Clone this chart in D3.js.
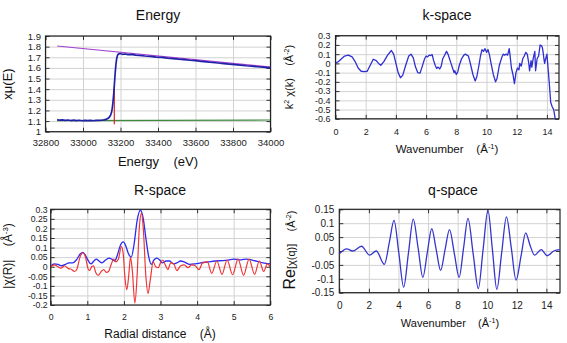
<!DOCTYPE html>
<html>
<head>
<meta charset="utf-8">
<script src="https://cdn.jsdelivr.net/npm/d3@7"></script>
<style>
body { margin: 0; background: #fff; }
text { font-family: "Liberation Sans", Arial, sans-serif; white-space: pre; }
</style>
</head>
<body>
<div class="chart"></div>
<script>
// ---- Energy (raw absorption) ----
const energyE = [32862, 32875, 32890, 32905, 32920, 32935, 32950, 32965, 32980, 32995, 33010, 33025, 33040, 33055, 33070, 33085, 33100, 33112, 33122, 33132, 33140, 33147, 33152, 33156, 33160, 33164, 33168, 33172, 33176, 33180, 33184, 33190, 33198, 33210, 33225, 33240, 33260, 33280, 33300, 33330, 33360, 33390, 33420, 33450, 33480, 33510, 33540, 33570, 33600, 33630, 33660, 33690, 33720, 33750, 33780, 33810, 33840, 33870, 33900, 33930, 33960, 33985, 34000];
const energyMu = [1.113, 1.108, 1.111, 1.106, 1.110, 1.105, 1.109, 1.104, 1.108, 1.103, 1.107, 1.104, 1.106, 1.103, 1.106, 1.107, 1.108, 1.111, 1.116, 1.124, 1.136, 1.155, 1.18, 1.22, 1.28, 1.36, 1.46, 1.56, 1.64, 1.69, 1.718, 1.732, 1.735, 1.728, 1.731, 1.725, 1.727, 1.72, 1.718, 1.712, 1.708, 1.702, 1.699, 1.692, 1.688, 1.682, 1.678, 1.672, 1.668, 1.662, 1.657, 1.651, 1.646, 1.641, 1.636, 1.63, 1.626, 1.62, 1.616, 1.611, 1.607, 1.603, 1.604];
const preEdgeE = [32862, 34000];
const preEdgeMu = [1.105, 1.11];
const postEdgeE = [32862, 34000];
const postEdgeMu = [1.806, 1.608];
const e0E = [33167, 33167];
const e0Mu = [1.07, 1.42];

// ---- k-space ----
const kK = [0, 0.2, 0.4, 0.6, 0.85, 1.1, 1.3, 1.5, 1.7, 1.9, 2.1, 2.3, 2.5, 2.7, 2.85, 3.0, 3.2, 3.45, 3.7, 3.85, 4.0, 4.15, 4.3, 4.45, 4.65, 4.85, 5.0, 5.15, 5.3, 5.45, 5.6, 5.75, 5.9, 6.0, 6.1, 6.2, 6.3, 6.4, 6.5, 6.6, 6.7, 6.8, 6.9, 7.0, 7.1, 7.2, 7.35, 7.45, 7.55, 7.65, 7.75, 7.85, 7.9, 8.0, 8.1, 8.2, 8.35, 8.5, 8.6, 8.7, 8.8, 8.9, 9.0, 9.1, 9.25, 9.35, 9.5, 9.6, 9.7, 9.8, 9.9, 10.0, 10.1, 10.2, 10.3, 10.45, 10.6, 10.7, 10.85, 11.0, 11.1, 11.2, 11.3, 11.4, 11.5, 11.55, 11.65, 11.75, 11.85, 11.95, 12.05, 12.15, 12.2, 12.3, 12.4, 12.5, 12.6, 12.7, 12.8, 12.85, 12.95, 13.0, 13.1, 13.2, 13.25, 13.35, 13.45, 13.55, 13.65, 13.7, 13.75, 13.8, 13.85, 13.9, 14.0, 14.05, 14.15, 14.25, 14.35, 14.45, 14.55, 14.65];
const kChi = [0.0, 0.02, 0.05, 0.08, 0.09, 0.07, 0.02, -0.05, -0.085, -0.09, -0.085, -0.02, 0.045, 0.03, 0.0, -0.02, 0.02, 0.09, 0.14, 0.1, 0.0, -0.1, -0.155, -0.13, -0.02, 0.08, 0.1, 0.06, -0.04, -0.1, -0.105, -0.03, 0.05, 0.08, 0.07, 0.09, 0.085, 0.095, 0.03, -0.02, -0.055, -0.04, -0.06, -0.03, 0.05, 0.08, 0.13, 0.1, 0.05, 0.0, -0.05, -0.1, -0.08, -0.12, -0.09, -0.02, 0.05, 0.09, 0.1, 0.09, 0.08, 0.02, -0.05, -0.12, -0.19, -0.15, -0.02, 0.08, 0.15, 0.13, 0.16, 0.12, 0.15, 0.09, 0.0, -0.12, -0.2, -0.16, -0.02, 0.06, 0.1, 0.09, 0.1, 0.09, 0.16, 0.1, -0.05, -0.12, -0.22, -0.1, -0.05, -0.07, 0.0, -0.03, 0.05, 0.08, 0.12, 0.1, 0.0, -0.08, 0.03, -0.04, 0.06, 0.13, -0.08, 0.05, 0.08, 0.2, 0.19, 0.17, 0.12, 0.05, 0.0, 0.04, 0.1, 0.0, -0.2, -0.42, -0.47, -0.5, -0.6, -0.7];

// ---- R-space ----
const rMagR = [0, 0.1, 0.2, 0.3, 0.4, 0.5, 0.6, 0.7, 0.8, 0.88, 0.95, 1.03, 1.1, 1.18, 1.25, 1.32, 1.4, 1.5, 1.6, 1.68, 1.75, 1.82, 1.9, 1.98, 2.05, 2.12, 2.2, 2.28, 2.36, 2.45, 2.53, 2.6, 2.68, 2.75, 2.82, 2.9, 2.98, 3.05, 3.15, 3.25, 3.35, 3.45, 3.55, 3.65, 3.8, 3.95, 4.1, 4.3, 4.5, 4.7, 4.85, 5.0, 5.1, 5.2, 5.35, 5.5, 5.65, 5.8, 6.0];
const rMag = [0.003, 0.015, 0.012, 0.005, 0.012, 0.02, 0.02, 0.035, 0.065, 0.075, 0.06, 0.03, 0.015, 0.03, 0.04, 0.03, 0.02, 0.035, 0.045, 0.038, 0.03, 0.06, 0.11, 0.13, 0.11, 0.07, 0.05, 0.12, 0.24, 0.295, 0.25, 0.15, 0.05, 0.012, 0.035, 0.045, 0.035, 0.02, 0.03, 0.03, 0.015, 0.02, 0.03, 0.025, 0.012, 0.015, 0.02, 0.025, 0.03, 0.032, 0.035, 0.04, 0.038, 0.036, 0.04, 0.035, 0.028, 0.02, 0.015];
const rReR = [0, 0.1, 0.2, 0.28, 0.38, 0.48, 0.55, 0.65, 0.72, 0.8, 0.88, 0.95, 1.02, 1.06, 1.12, 1.17, 1.23, 1.3, 1.38, 1.45, 1.52, 1.58, 1.65, 1.72, 1.78, 1.85, 1.93, 1.98, 2.03, 2.08, 2.13, 2.18, 2.23, 2.3, 2.36, 2.42, 2.48, 2.53, 2.6, 2.66, 2.72, 2.8, 2.87, 2.94, 3.0, 3.06, 3.13, 3.2, 3.28, 3.36, 3.45, 3.55, 3.65, 3.75, 3.85, 3.95, 4.05, 4.15, 4.28, 4.4, 4.54, 4.68, 4.82, 4.97, 5.12, 5.27, 5.42, 5.57, 5.7, 5.82, 5.92, 6.0];
const rRe = [0.0, 0.01, 0.0, -0.008, 0.005, -0.01, -0.012, -0.025, -0.01, 0.05, 0.073, 0.05, -0.01, -0.02, 0.0, 0.005, -0.03, -0.045, -0.025, -0.015, -0.03, -0.025, 0.01, 0.04, 0.025, 0.04, 0.105, 0.07, -0.06, -0.12, -0.05, 0.05, -0.02, -0.19, -0.05, 0.2, 0.28, 0.2, -0.05, -0.14, -0.07, 0.025, 0.0, -0.005, 0.02, 0.035, 0.01, -0.015, 0.02, 0.015, -0.02, 0.005, 0.01, -0.005, 0.01, 0.005, -0.015, 0.02, 0.025, -0.035, 0.03, -0.04, 0.035, -0.042, 0.04, -0.045, 0.04, -0.04, 0.03, -0.025, 0.015, 0.0];

// ---- q-space ----
const qK = [0, 0.5, 0.9, 1.5, 2.05, 2.5, 3.05, 3.38, 3.7, 4.03, 4.35, 4.68, 5.0, 5.33, 5.65, 5.95, 6.25, 6.55, 6.85, 7.15, 7.45, 7.78, 8.1, 8.4, 8.7, 9.05, 9.4, 9.72, 10.05, 10.35, 10.65, 10.98, 11.3, 11.63, 11.95, 12.28, 12.6, 12.9, 13.2, 13.65, 14.05, 14.5, 14.9];
const qChi = [-0.01, 0.008, 0.0, 0.017, -0.015, 0.0, -0.048, 0.03, 0.11, -0.01, -0.13, -0.005, 0.115, 0.01, -0.095, -0.005, 0.08, 0.005, -0.07, 0.005, 0.077, -0.01, -0.095, 0.01, 0.117, -0.01, -0.135, 0.005, 0.147, 0.005, -0.138, -0.005, 0.123, 0.01, -0.105, -0.02, 0.065, 0.02, -0.015, 0.005, -0.017, 0.0, 0.005];

// ---- tick values ----
const energyXTicks = [32800, 33000, 33200, 33400, 33600, 33800, 34000];
const energyYTicks = [1, 1.1, 1.2, 1.3, 1.4, 1.5, 1.6, 1.7, 1.8, 1.9];
const kXTicks = [0, 2, 4, 6, 8, 10, 12, 14];
const kYTicks = [-0.6, -0.5, -0.4, -0.3, -0.2, -0.1, 0, 0.1, 0.2, 0.3];
const rXTicks = [0, 1, 2, 3, 4, 5, 6];
const rYTicks = [-0.2, -0.15, -0.1, -0.05, 0, 0.05, 0.1, 0.15, 0.2, 0.25, 0.3];
const qXTicks = [0, 2, 4, 6, 8, 10, 12, 14];
const qYTicks = [-0.15, -0.1, -0.05, 0, 0.05, 0.1, 0.15];

const W = 567, H = 343;
const svg = d3.select(".chart").append("svg")
    .attr("width", W)
    .attr("height", H);

function num(v) { return String(+v.toFixed(3)); }

// writes parts like {t:"2", sup:true} into a text element
function rich(text, parts) {
    parts.forEach(function (p) {
        let t = text.append("tspan").text(p.t);
        if (p.sup) t.attr("baseline-shift", "super").attr("font-size", "65%");
        if (p.size) t.attr("font-size", p.size);
    });
}

function panel(o) {
    let x = d3.scaleLinear().domain(o.xDomain).range([o.left, o.right]);
    let y = d3.scaleLinear().domain(o.yDomain).range([o.bottom, o.top]);
    let h = o.bottom - o.top, w = o.right - o.left;
    let g = svg.append("g");

    g.append("clipPath").attr("id", "clip-" + o.id)
        .append("rect").attr("x", o.left).attr("y", o.top).attr("width", w).attr("height", h);

    // grid
    g.append("g").attr("transform", `translate(0,${o.bottom})`)
        .call(d3.axisBottom(x).tickValues(o.xTicks).tickSize(-h).tickFormat(""))
        .call(s => { s.select(".domain").remove(); s.selectAll("line").attr("stroke", "#d2d2d2"); });
    g.append("g").attr("transform", `translate(${o.left},0)`)
        .call(d3.axisLeft(y).tickValues(o.yTicks).tickSize(-w).tickFormat(""))
        .call(s => { s.select(".domain").remove(); s.selectAll("line").attr("stroke", "#d2d2d2"); });

    // inward ticks on all sides
    let tk = 4;
    [[d3.axisBottom, x, o.xTicks, `translate(0,${o.bottom})`],
     [d3.axisTop, x, o.xTicks, `translate(0,${o.top})`],
     [d3.axisLeft, y, o.yTicks, `translate(${o.left},0)`],
     [d3.axisRight, y, o.yTicks, `translate(${o.right},0)`]].forEach(function (a) {
        g.append("g").attr("transform", a[3])
            .call(a[0](a[1]).tickValues(a[2]).tickSize(-tk).tickFormat(""))
            .call(s => { s.select(".domain").remove(); s.selectAll("line").attr("stroke", "#333"); });
    });

    // tick labels
    g.append("g").attr("transform", `translate(0,${o.bottom})`)
        .call(d3.axisBottom(x).tickValues(o.xTicks).tickSize(0).tickPadding(o.xPad).tickFormat(num))
        .call(s => {
            s.select(".domain").remove();
            s.attr("font-family", null).attr("font-size", o.tickFont);
            s.selectAll("text").attr("fill", "#222");
        });
    g.append("g").attr("transform", `translate(${o.left},0)`)
        .call(d3.axisLeft(y).tickValues(o.yTicks).tickSize(0).tickPadding(o.yPad).tickFormat(num))
        .call(s => {
            s.select(".domain").remove();
            s.attr("font-family", null).attr("font-size", o.tickFont);
            s.selectAll("text").attr("fill", "#222");
        });

    // frame
    g.append("rect")
        .attr("x", o.left).attr("y", o.top).attr("width", w).attr("height", h)
        .attr("fill", "none").attr("stroke", "#222").attr("stroke-width", 1.2);

    // title
    g.append("text").attr("x", o.titleX).attr("y", o.titleY)
        .attr("text-anchor", "middle").attr("font-size", 14).attr("fill", "#111")
        .text(o.title);

    // x label
    let xl = g.append("text").attr("x", o.xLabelX).attr("y", o.xLabelY)
        .attr("text-anchor", "middle").attr("font-size", o.xLabelSize).attr("fill", "#111");
    rich(xl, o.xLabel);

    // y label
    let yl = g.append("text")
        .attr("transform", `translate(${o.yLabelX},${o.yLabelY}) rotate(-90)`)
        .attr("text-anchor", "middle").attr("font-size", o.yLabelSize).attr("fill", "#111");
    rich(yl, o.yLabel);

    return { x: x, y: y, g: g, clip: "url(#clip-" + o.id + ")" };
}

function series(p, xs, ys, color, width, curve) {
    let line = d3.line()
        .x(d => p.x(d[0]))
        .y(d => p.y(d[1]))
        .curve(curve || d3.curveLinear);
    p.g.append("path")
        .datum(d3.zip(xs, ys))
        .attr("d", line)
        .attr("clip-path", p.clip)
        .attr("fill", "none")
        .attr("stroke", color)
        .attr("stroke-width", width)
        .attr("stroke-linejoin", "round");
}

// Energy panel
let pE = panel({
    id: "e", left: 45.5, right: 270.5, top: 36, bottom: 131.7,
    xDomain: [32800, 34000], yDomain: [1, 1.9],
    xTicks: energyXTicks, yTicks: energyYTicks,
    tickFont: 9.5, xPad: 8, yPad: 4.5,
    title: "Energy", titleX: 158, titleY: 20,
    xLabel: [{ t: "Energy    (eV)" }], xLabelX: 158, xLabelY: 166, xLabelSize: 13,
    yLabel: [{ t: "xμ(E)" }], yLabelX: 12, yLabelY: 84, yLabelSize: 13
});
series(pE, preEdgeE, preEdgeMu, "#3d8a3d", 1.2);
series(pE, postEdgeE, postEdgeMu, "#a344d0", 1.2);
series(pE, e0E, e0Mu, "#e0261e", 1.2);
series(pE, energyE, energyMu, "#2121a8", 1.7);

// k-space panel
let pK = panel({
    id: "k", left: 335.5, right: 559, top: 35.7, bottom: 118.8,
    xDomain: [0, 14.8], yDomain: [-0.6, 0.3],
    xTicks: kXTicks, yTicks: kYTicks,
    tickFont: 9, xPad: 9.5, yPad: 5,
    title: "k-space", titleX: 447, titleY: 20,
    xLabel: [{ t: "Wavenumber    (Å" }, { t: "-1", sup: true }, { t: ")" }], xLabelX: 447, xLabelY: 153, xLabelSize: 11.5,
    yLabel: [{ t: "k" }, { t: "2", sup: true }, { t: " χ(k)    (Å" }, { t: "-2", sup: true }, { t: ")" }], yLabelX: 293, yLabelY: 77, yLabelSize: 11
});
series(pK, kK, kChi, "#2f2fd2", 1.3);

// R-space panel
let pR = panel({
    id: "r", left: 50.7, right: 270.3, top: 209.3, bottom: 305,
    xDomain: [0, 6], yDomain: [-0.2, 0.3],
    xTicks: rXTicks, yTicks: rYTicks,
    tickFont: 8.7, xPad: 9, yPad: 3,
    title: "R-space", titleX: 160, titleY: 195,
    xLabel: [{ t: "Radial distance    (Å)" }], xLabelX: 160, xLabelY: 338, xLabelSize: 12,
    yLabel: [{ t: "|χ(R)|    (Å" }, { t: "-3", sup: true }, { t: ")" }], yLabelX: 11.5, yLabelY: 256, yLabelSize: 12
});
series(pR, rMagR, rMag, "#2b2bf2", 1.3, d3.curveMonotoneX);
series(pR, rReR, rRe, "#ef3535", 1.2, d3.curveMonotoneX);

// q-space panel
let pQ = panel({
    id: "q", left: 339.3, right: 560, top: 209.3, bottom: 292.7,
    xDomain: [0, 14.92], yDomain: [-0.15, 0.15],
    xTicks: qXTicks, yTicks: qYTicks,
    tickFont: 10, xPad: 9, yPad: 5,
    title: "q-space", titleX: 453, titleY: 195,
    xLabel: [{ t: "Wavenumber    (Å" }, { t: "-1", sup: true }, { t: ")" }], xLabelX: 450, xLabelY: 327, xLabelSize: 11,
    yLabel: [{ t: "Re", size: 16 }, { t: "[χ(q)]    (Å" }, { t: "-2", sup: true }, { t: ")" }], yLabelX: 295, yLabelY: 250, yLabelSize: 11
});
series(pQ, qK, qChi, "#3535cc", 1.3, d3.curveMonotoneX);
</script>
</body>
</html>
